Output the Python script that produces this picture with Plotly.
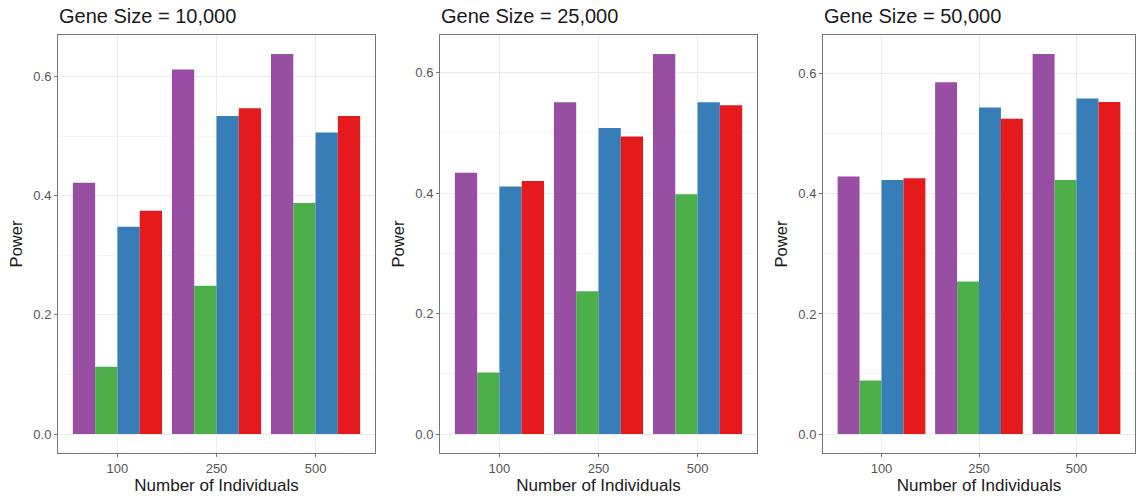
import plotly.graph_objects as go

individuals = ["100", "250", "500"]
gene_sizes = ["Gene Size = 10,000", "Gene Size = 25,000", "Gene Size = 50,000"]
methods = ["M1", "M2", "M3", "M4"]
colors = ["#984EA3", "#4DAF4A", "#377EB8", "#E41A1C"]

# power values per panel, per method (purple, green, blue, red), per N
power_10k = [
    [0.422, 0.612, 0.638],
    [0.113, 0.249, 0.388],
    [0.348, 0.534, 0.506],
    [0.375, 0.547, 0.534],
]
power_25k = [
    [0.434, 0.551, 0.631],
    [0.102, 0.237, 0.398],
    [0.411, 0.508, 0.551],
    [0.420, 0.494, 0.546],
]
power_50k = [
    [0.429, 0.586, 0.633],
    [0.089, 0.254, 0.423],
    [0.423, 0.544, 0.559],
    [0.426, 0.525, 0.553],
]
panels = [power_10k, power_25k, power_50k]

W, H = 1139, 503
px_left = [58, 440, 823]
px_right = [375, 757, 1135]
px_top, px_bot = 35, 453

fig = go.Figure()
font_family = "Liberation Sans, Arial, sans-serif"

for p, data in enumerate(panels):
    xa = "x" if p == 0 else f"x{p+1}"
    ya = "y" if p == 0 else f"y{p+1}"
    for m in range(4):
        fig.add_trace(go.Bar(
            x=individuals, y=data[m], name=methods[m],
            marker=dict(color=colors[m], line=dict(width=0)),
            xaxis=xa, yaxis=ya, showlegend=False,
            offsetgroup=str(m),
        ))
    mx = max(max(r) for r in data)
    ymin, ymax = -0.05 * mx, mx * 1.05
    dom_x = [px_left[p] / W, px_right[p] / W]
    dom_y = [1 - px_bot / H, 1 - px_top / H]
    xkey = "xaxis" if p == 0 else f"xaxis{p+1}"
    ykey = "yaxis" if p == 0 else f"yaxis{p+1}"
    fig.update_layout({
        xkey: dict(
            domain=dom_x, anchor=ya, type="category",
            range=[-0.6, 2.6], showline=True, mirror=True,
            linecolor="#777777", linewidth=1,
            showgrid=True, gridcolor="#EBEBEB", gridwidth=1,
            ticks="outside", ticklen=3, tickcolor="#777777",
            tickfont=dict(size=13, color="#555555", family=font_family),
            title=dict(text="Number of Individuals", standoff=3,
                       font=dict(size=17, color="#1A1A1A", family=font_family)),
            automargin=False, zeroline=False,
        ),
        ykey: dict(
            domain=dom_y, anchor=xa, range=[ymin, ymax],
            showline=True, mirror=True, linecolor="#777777", linewidth=1,
            tickmode="array", tickvals=[0, 0.2, 0.4, 0.6],
            ticktext=["0.0", "0.2", "0.4", "0.6"],
            showgrid=True, gridcolor="#EBEBEB", gridwidth=1,
            minor=dict(tickmode="array", tickvals=[0.1, 0.3, 0.5],
                       showgrid=True, gridcolor="#F5F5F5", gridwidth=0.8, ticks=""),
            ticks="outside", ticklen=3, tickcolor="#777777",
            tickfont=dict(size=13, color="#555555", family=font_family),
            title=dict(text="Power", standoff=6,
                       font=dict(size=16.5, color="#1A1A1A", family=font_family)),
            automargin=False, zeroline=False,
        ),
    })
    fig.add_annotation(
        text=gene_sizes[p], xref="paper", yref="paper",
        x=(px_left[p] - 1) / W, y=1 - 16 / H, xanchor="left", yanchor="middle",
        showarrow=False, font=dict(size=20, color="#1A1A1A", family=font_family),
    )

fig.update_layout(
    width=W, height=H, margin=dict(l=0, r=0, t=0, b=0),
    barmode="group", bargap=0.1, bargroupgap=0,
    plot_bgcolor="white", paper_bgcolor="white",
    showlegend=False,
)

fig.write_html(
    "out.html",
    config={"displayModeBar": False},
    post_script="document.body.style.margin='0';document.body.style.overflow='hidden';",
)
